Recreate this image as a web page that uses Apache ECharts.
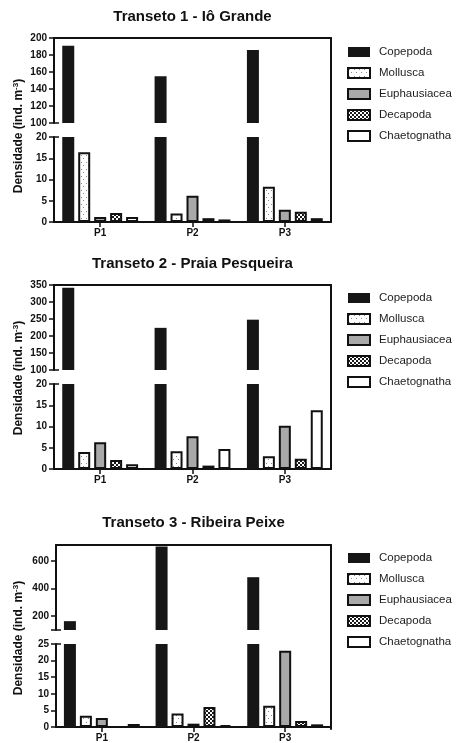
<!DOCTYPE html>
<html>
<head>
<meta charset="utf-8">
<script src="https://cdn.jsdelivr.net/npm/echarts@6/dist/echarts.min.js"></script>
<style>
  html, body { margin: 0; padding: 0; background: #fff; }
  #chart { width: 456px; height: 743px; }
</style>
</head>
<body>
<div id="chart"></div>
<script>
// densidade (ind. m-3) por ponto, três transetos
const sites = ['P1', 'P2', 'P3']
const taxa = ['Copepoda', 'Mollusca', 'Euphausiacea', 'Decapoda', 'Chaetognatha']

const t1Copepoda = [191, 155, 186]
const t1Mollusca = [16.4, 2.0, 8.3]
const t1Euphausiacea = [1.2, 6.2, 2.9]
const t1Decapoda = [2.1, 0.9, 2.4]
const t1Chaetognatha = [1.2, 0.6, 0.9]

const t2Copepoda = [342, 224, 248]
const t2Mollusca = [4.0, 4.2, 3.0]
const t2Euphausiacea = [6.3, 7.7, 10.2]
const t2Decapoda = [2.1, 0.8, 2.4]
const t2Chaetognatha = [1.1, 4.7, 13.8]

const t3Copepoda = [164, 705, 482]
const t3Mollusca = [3.4, 4.1, 6.4]
const t3Euphausiacea = [2.7, 1.0, 23.0]
const t3Decapoda = [0, 6.0, 1.8]
const t3Chaetognatha = [0.9, 0.6, 0.8]

// axis segments: [min, max] for the upper and lower part of each broken axis
const t1Upper = [100, 200], t1Lower = [0, 20]
const t2Upper = [100, 350], t2Lower = [0, 20]
const t3Upper = [100, 715], t3Lower = [0, 25]
const t3UpperTicks = [200, 400, 600]

const FONT = "'Liberation Sans', Arial, sans-serif"
const INK = '#111'

function pattern(w, h, draw) {
  const c = document.createElement('canvas')
  c.width = w
  c.height = h
  const ctx = c.getContext('2d')
  ctx.fillStyle = '#fff'
  ctx.fillRect(0, 0, w, h)
  draw(ctx)
  return { image: c, repeat: 'repeat' }
}
const dots = pattern(5, 7, (ctx) => {
  ctx.fillStyle = '#8a8a8a'
  ctx.fillRect(1, 1, 1, 1)
  ctx.fillRect(3, 4, 1, 1)
})
const checker = pattern(4, 4, (ctx) => {
  ctx.fillStyle = '#1a1a1a'
  ctx.fillRect(0, 0, 2, 2)
  ctx.fillRect(2, 2, 2, 2)
})

const STYLES = [
  { color: '#161616', borderColor: '#161616', borderWidth: 0 },
  { color: dots, borderColor: INK, borderWidth: 2 },
  { color: '#a9a9a9', borderColor: INK, borderWidth: 2 },
  { color: checker, borderColor: INK, borderWidth: 2 },
  { color: '#fff', borderColor: INK, borderWidth: 2 },
]

const panels = [
  {
    title: 'Transeto 1 - Iô Grande',
    values: [t1Copepoda, t1Mollusca, t1Euphausiacea, t1Decapoda, t1Chaetognatha],
    upper: t1Upper, lower: t1Lower, upperInterval: 20, lowerInterval: 5,
    left: 54, top: 38, legendTop: 46, titleTop: 9, nameShift: 6,
  },
  {
    title: 'Transeto 2 - Praia Pesqueira',
    values: [t2Copepoda, t2Mollusca, t2Euphausiacea, t2Decapoda, t2Chaetognatha],
    upper: t2Upper, lower: t2Lower, upperInterval: 50, lowerInterval: 5,
    left: 54, top: 285, legendTop: 292, titleTop: 256, nameShift: 1,
  },
  {
    title: 'Transeto 3 - Ribeira Peixe',
    values: [t3Copepoda, t3Mollusca, t3Euphausiacea, t3Decapoda, t3Chaetognatha],
    upper: t3Upper, lower: t3Lower, upperTicks: t3UpperTicks, lowerInterval: 5,
    left: 56, top: 545, legendTop: 552, titleTop: 515, nameShift: 1,
  },
]

const RIGHT = 331
const SEG_H = 85
const GAP = 14

const option = {
  animation: false,
  backgroundColor: '#fff',
  title: [], legend: [], grid: [], xAxis: [], yAxis: [], series: [], graphic: [],
}

const tickLabel = { color: INK, fontFamily: FONT, fontSize: 10, fontWeight: 'bold' }
const axisLine = { show: true, onZero: false, lineStyle: { color: INK, width: 2 } }
const tick = { show: true, length: 5, lineStyle: { color: INK, width: 1.5 } }

panels.forEach((p, k) => {
  const width = RIGHT - p.left
  const lowerTop = p.top + SEG_H + GAP
  const plotCenter = p.left + width / 2

  option.title.push({
    text: p.title, left: plotCenter, top: p.titleTop, textAlign: 'center', padding: 0,
    textStyle: { color: INK, fontFamily: FONT, fontSize: 15, fontWeight: 'bold' },
  })

  option.legend.push({
    data: taxa, orient: 'vertical', left: 347, top: p.legendTop, padding: 0,
    itemWidth: 22, itemHeight: 10, itemGap: 9, icon: 'rect', selectedMode: false,
    textStyle: { color: '#1c1c1c', fontFamily: FONT, fontSize: 11.5, padding: [0, 0, 0, 4] },
  })

  option.grid.push(
    { left: p.left, width, top: p.top, height: SEG_H },
    { left: p.left, width, top: lowerTop, height: SEG_H },
    { left: p.left, width, top: p.top, height: lowerTop + SEG_H - p.top },
  )
  const g = k * 3
  option.xAxis.push(
    { gridIndex: g, type: 'category', data: sites, position: 'top',
      axisLine, axisTick: { show: false }, axisLabel: { show: false } },
    { gridIndex: g + 1, type: 'category', data: sites, position: 'bottom',
      axisLine, axisTick: { ...tick, alignWithLabel: true },
      axisLabel: { ...tickLabel, margin: 6 } },
    { gridIndex: g + 2, type: 'category', data: sites, show: false },
  )

  const upperAxis = {
    gridIndex: g, type: 'value', position: 'left', min: p.upper[0], max: p.upper[1],
    axisLine, splitLine: { show: false },
    axisLabel: { ...tickLabel, margin: 7 }, axisTick: tick,
  }
  if (p.upperTicks) {
    upperAxis.axisLabel.customValues = p.upperTicks
    upperAxis.axisTick = { ...tick, customValues: [p.upper[0], ...p.upperTicks] }
  } else {
    upperAxis.interval = p.upperInterval
  }
  // short inward tick at the cut, so each side of the break ends like ⊥ / T
  const breakMark = (grid, range, at) => ({
    gridIndex: grid, type: 'value', position: 'left', min: range[0], max: range[1],
    axisLine: { show: false }, splitLine: { show: false }, axisLabel: { show: false },
    axisTick: { show: true, inside: true, length: 5, customValues: [at],
      lineStyle: { color: INK, width: 1.5 } },
  })
  option.yAxis.push(
    upperAxis,
    breakMark(g, p.upper, p.upper[0]),
    { gridIndex: g + 1, type: 'value', position: 'left', min: p.lower[0], max: p.lower[1],
      interval: p.lowerInterval, axisLine, splitLine: { show: false },
      axisLabel: { ...tickLabel, margin: 7 }, axisTick: tick },
    breakMark(g + 1, p.lower, p.lower[1]),
    { gridIndex: g + 2, type: 'value', min: 0, max: 1, position: 'right',
      axisLine, axisTick: { show: false }, axisLabel: { show: false },
      splitLine: { show: false } },
  )

  const y = k * 5
  taxa.forEach((name, i) => {
    const common = {
      name, type: 'bar', barWidth: 12, barGap: '33%', clip: true,
      itemStyle: STYLES[i], emphasis: { disabled: true },
    }
    option.series.push(
      { ...common, xAxisIndex: g, yAxisIndex: y,
        data: p.values[i].map((v) => (v > p.upper[0] ? v : null)) },
      { ...common, xAxisIndex: g + 1, yAxisIndex: y + 2, data: p.values[i] },
    )
  })

  option.graphic.push({
    type: 'text', x: 19, y: p.top + (lowerTop + SEG_H - p.top) / 2 + p.nameShift,
    rotation: Math.PI / 2,
    style: {
      text: 'Densidade (ind. m{sup|-3})',
      fill: INK, fontFamily: FONT, fontSize: 12, fontWeight: 'bold',
      align: 'center', verticalAlign: 'middle', lineHeight: 14,
      rich: { sup: { fontSize: 8, fontWeight: 'bold', fontFamily: FONT, fill: INK,
        verticalAlign: 'top', lineHeight: 8 } },
    },
  })
})

const chart = echarts.init(document.getElementById('chart'), null, { renderer: 'canvas' })
chart.setOption(option)
</script>
</body>
</html>
